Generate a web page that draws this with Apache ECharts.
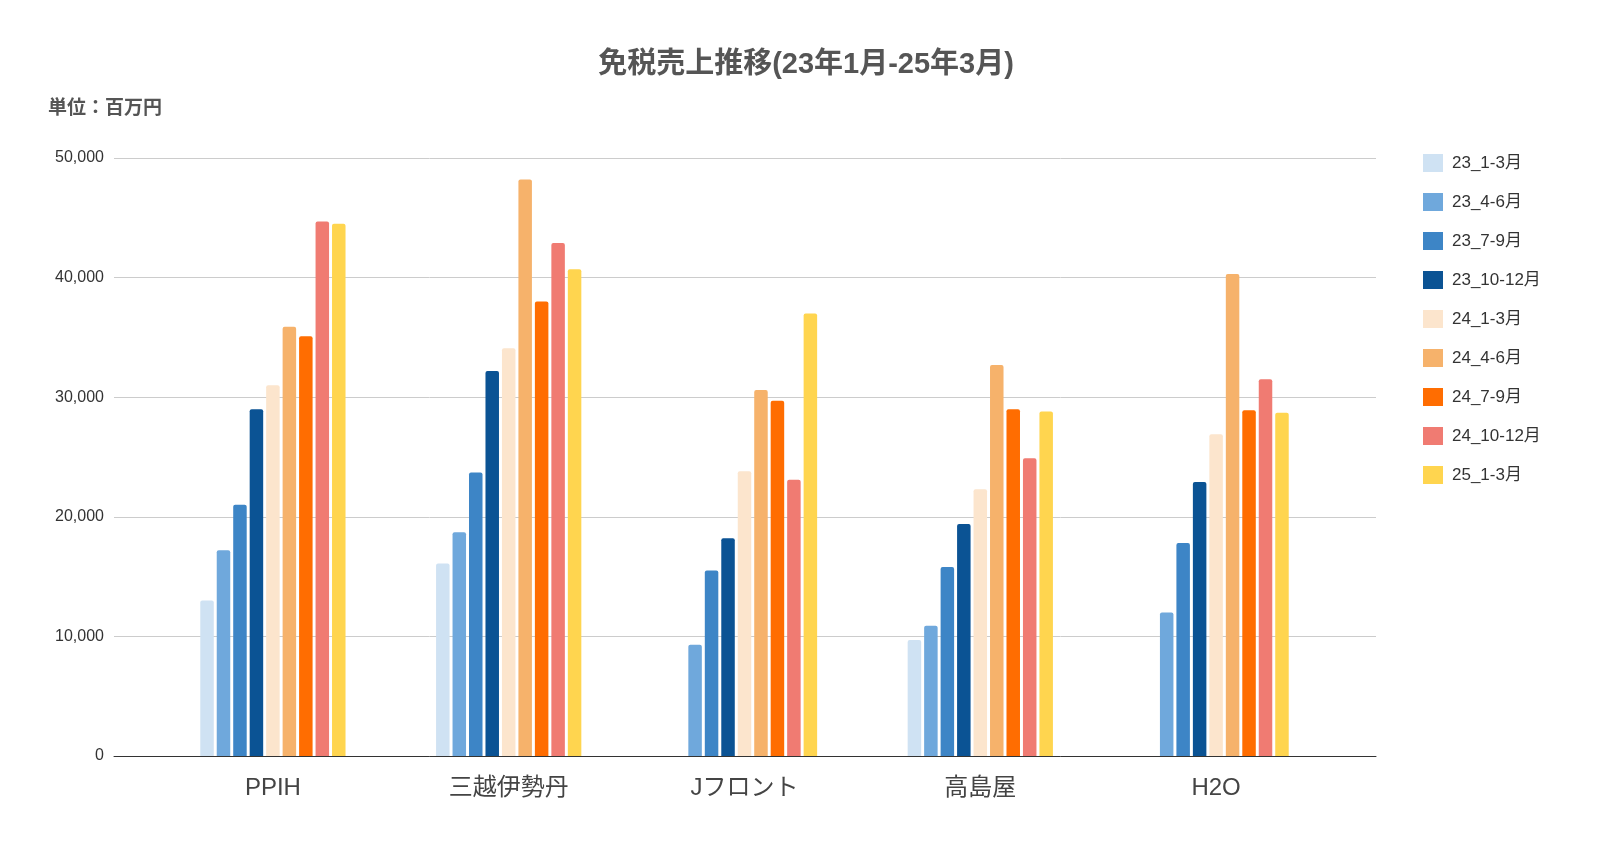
<!DOCTYPE html>
<html>
<head>
<meta charset="utf-8">
<script src="https://cdn.jsdelivr.net/npm/echarts@6/dist/echarts.min.js"></script>
<style>html,body{margin:0;padding:0;background:#fff}#chart{width:1600px;height:842px}</style>
</head>
<body>
<div id="chart"></div>
<script>
const categories = ['PPIH', '三越伊勢丹', 'Jフロント', '高島屋', 'H2O']
const seriesNames = ['23_1-3月', '23_4-6月', '23_7-9月', '23_10-12月', '24_1-3月', '24_4-6月', '24_7-9月', '24_10-12月', '25_1-3月']
const colors = ['#cfe2f3', '#6fa8dc', '#3d85c6', '#0b5394', '#fce5cd', '#f6b26b', '#ff6d01', '#f07b72', '#ffd54f']
// values per series, in category order
const values = [
  [13000, 16100, null, 9700, null],
  [17200, 18700, 9300, 10900, 12000],
  [21000, 23700, 15500, 15800, 17800],
  [29000, 32200, 18200, 19400, 22900],
  [31000, 34100, 23800, 22300, 26900],
  [35900, 48200, 30600, 32700, 40300],
  [35100, 38000, 29700, 29000, 28900],
  [44700, 42900, 23100, 24900, 31500],
  [44500, 40700, 37000, 28800, 28700]
]

const chart = echarts.init(document.getElementById('chart'))
chart.setOption({
  textStyle: { fontFamily: 'Arial, "Liberation Sans", "Noto Sans CJK JP", sans-serif' },
  title: [
    { text: '免税売上推移(23年1月-25年3月)', left: 801, textAlign: 'center', top: 45,
      textStyle: { fontSize: 29, fontWeight: 'bold', color: '#555' } },
    { text: '単位：百万円', left: 43, top: 94, textStyle: { fontSize: 19, fontWeight: 'bold', color: '#555' } }
  ],
  legend: {
    orient: 'vertical', left: 1418, top: 149, itemGap: 21, itemWidth: 20, itemHeight: 18,
    icon: 'rect', textStyle: { fontSize: 17, color: '#333', padding: [0, 0, 0, 4] }, data: seriesNames
  },
  grid: [
    { left: 114, right: 224, top: 158, bottom: 86 },
    { left: 155, right: 266, top: 158, bottom: 86 }
  ],
  xAxis: [
    { type: 'category', gridIndex: 0, data: [''], axisTick: { show: false }, axisLabel: { show: false },
      axisLine: { lineStyle: { color: '#333' } } },
    { type: 'category', gridIndex: 1, data: categories, axisTick: { show: false },
      axisLine: { show: false }, axisLabel: { fontSize: 24, color: '#444', margin: 20 } }
  ],
  yAxis: [
    { type: 'value', gridIndex: 0, min: 0, max: 50000, interval: 10000,
      axisLabel: { fontSize: 16, color: '#333', margin: 10, formatter: v => v.toLocaleString('en-US') },
      splitLine: { lineStyle: { color: '#ccc' } } },
    { type: 'value', gridIndex: 1, min: 0, max: 50000, interval: 10000,
      axisLabel: { show: false }, splitLine: { show: false } }
  ],
  series: seriesNames.map((name, i) => ({
    name, type: 'bar', xAxisIndex: 1, yAxisIndex: 1, data: values[i], barWidth: 13.5, barGap: '22%',
    itemStyle: { color: colors[i], borderRadius: [2, 2, 0, 0] }
  }))
})
</script>
</body>
</html>
